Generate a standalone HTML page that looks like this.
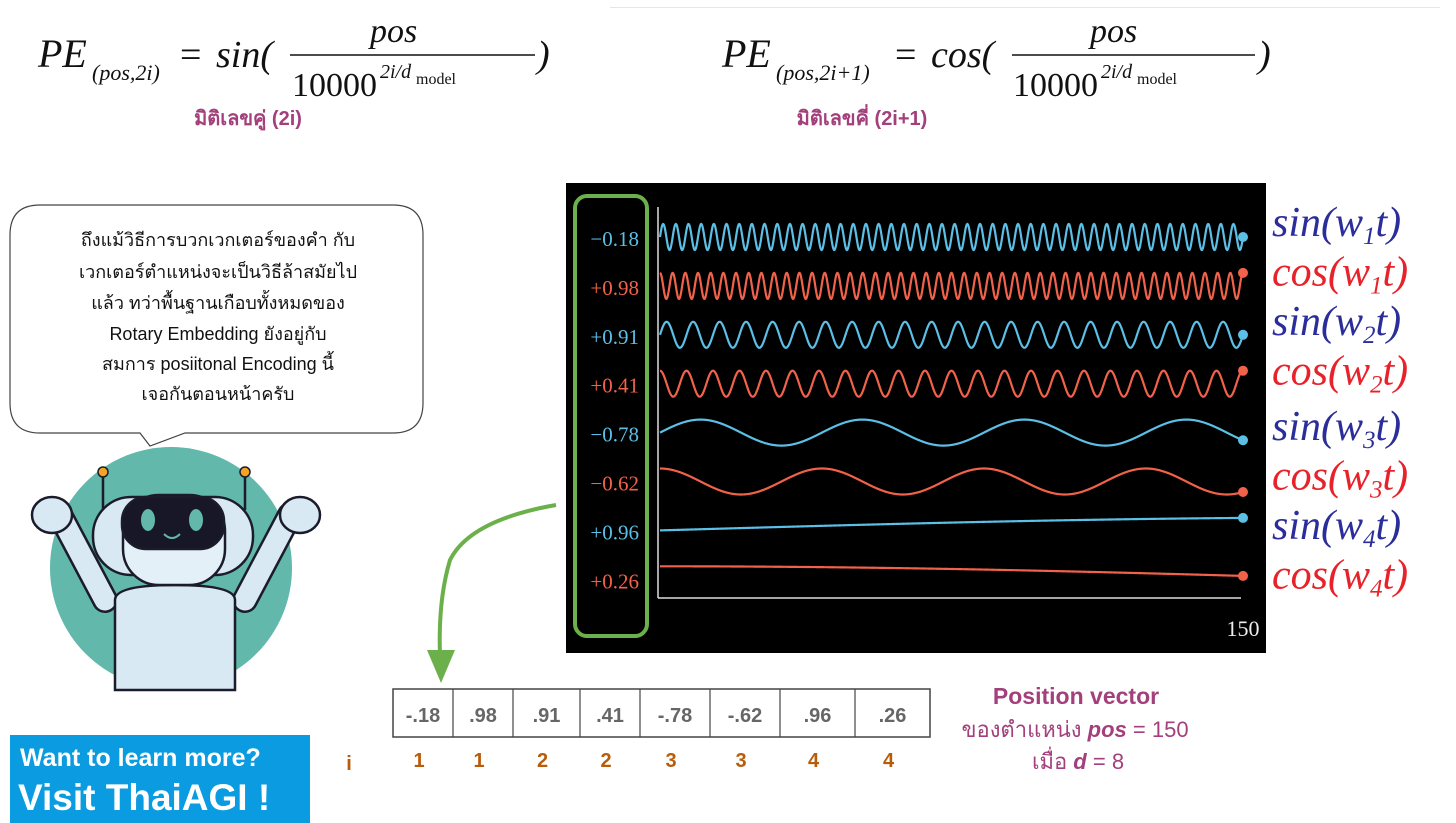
<!DOCTYPE html>
<html><head><meta charset="utf-8">
<style>
html,body{margin:0;padding:0;background:#fff;}
body{width:1456px;height:823px;position:relative;overflow:hidden;font-family:"Liberation Sans","Noto Sans CJK SC",sans-serif;}
.abs{position:absolute;}
</style></head>
<body>
<div class="abs" style="left:610px;top:7px;width:830px;height:1px;background:#e6e6e6"></div>

<svg class="abs" style="left:0;top:0" width="1456" height="823">
  <g font-family="Liberation Serif, serif" fill="#111">
    <text x="38" y="67" font-size="40" font-style="italic">PE</text>
    <text x="92" y="80" font-size="22" font-style="italic">(pos,2i)</text>
    <text x="180" y="67" font-size="38">=</text>
    <text x="216" y="67" font-size="38" font-style="italic">sin(</text>
    <text x="370" y="42" font-size="34" font-style="italic">pos</text>
    <line x1="290" y1="55" x2="535" y2="55" stroke="#111" stroke-width="1.5"/>
    <text x="292" y="96" font-size="34">10000</text>
    <text x="380" y="78" font-size="20" font-style="italic">2i/d</text>
    <text x="416" y="84" font-size="16">model</text>
    <text x="537" y="67" font-size="38" font-style="italic">)</text>
  </g>
  <g font-family="Liberation Serif, serif" fill="#111">
    <text x="722" y="67" font-size="40" font-style="italic">PE</text>
    <text x="776" y="80" font-size="22" font-style="italic">(pos,2i+1)</text>
    <text x="895" y="67" font-size="38">=</text>
    <text x="931" y="67" font-size="38" font-style="italic">cos(</text>
    <text x="1090" y="42" font-size="34" font-style="italic">pos</text>
    <line x1="1012" y1="55" x2="1255" y2="55" stroke="#111" stroke-width="1.5"/>
    <text x="1013" y="96" font-size="34">10000</text>
    <text x="1101" y="78" font-size="20" font-style="italic">2i/d</text>
    <text x="1137" y="84" font-size="16">model</text>
    <text x="1258" y="67" font-size="38" font-style="italic">)</text>
  </g>
  <text x="248" y="125" text-anchor="middle" font-size="20" font-weight="bold" fill="#a3407c" font-family="Liberation Sans, Noto Sans CJK SC, sans-serif">มิติเลขคู่ (2i)</text>
  <text x="862" y="125" text-anchor="middle" font-size="20" font-weight="bold" fill="#a3407c" font-family="Liberation Sans, Noto Sans CJK SC, sans-serif">มิติเลขคี่ (2i+1)</text>

  <g>
    <path d="M40,205 H393 Q423,205 423,235 V403 Q423,433 393,433 H185 L150,446 L140,433 H40 Q10,433 10,403 V235 Q10,205 40,205 Z" fill="#fff" stroke="#444" stroke-width="1.2"/>
    <g font-family="Liberation Sans, Noto Sans CJK SC, sans-serif" font-size="18" fill="#111" text-anchor="middle">
      <text x="218" y="246">ถึงแม้วิธีการบวกเวกเตอร์ของคำ กับ</text>
      <text x="218" y="278">เวกเตอร์ตำแหน่งจะเป็นวิธีล้าสมัยไป</text>
      <text x="218" y="309">แล้ว ทว่าพื้นฐานเกือบทั้งหมดของ</text>
      <text x="218" y="340">Rotary Embedding ยังอยู่กับ</text>
      <text x="218" y="370">สมการ posiitonal Encoding นี้</text>
      <text x="218" y="400">เจอกันตอนหน้าครับ</text>
    </g>
  </g>

  <g stroke="#1b1b2b" stroke-width="2.5">
    <circle cx="171" cy="568" r="121" fill="#62b8ab" stroke="none"/>
    <path d="M60,515 L105,600" stroke="#1b1b2b" stroke-width="26" stroke-linecap="round"/>
    <path d="M60,515 L105,600" stroke="#d8e9f3" stroke-width="21" stroke-linecap="round"/>
    <path d="M290,515 L245,600" stroke="#1b1b2b" stroke-width="26" stroke-linecap="round"/>
    <path d="M290,515 L245,600" stroke="#d8e9f3" stroke-width="21" stroke-linecap="round"/>
    <ellipse cx="52" cy="515" rx="20" ry="18" fill="#d8e9f3"/>
    <ellipse cx="300" cy="515" rx="20" ry="18" fill="#d8e9f3"/>
    <path d="M115,600 Q115,585 175,585 Q235,585 235,600 V690 H115 Z" fill="#d8e9f3"/>
    <line x1="103" y1="472" x2="103" y2="510"/><line x1="245" y1="472" x2="245" y2="510"/>
    <circle cx="103" cy="472" r="5" fill="#f4a323" stroke-width="1.5"/>
    <circle cx="245" cy="472" r="5" fill="#f4a323" stroke-width="1.5"/>
    <rect x="93" y="497" width="160" height="78" rx="38" fill="#d8e9f3"/>
    <rect x="123" y="495" width="102" height="90" rx="36" fill="#e4f0f7"/>
    <rect x="122" y="497" width="102" height="52" rx="24" fill="#171728"/>
    <ellipse cx="148" cy="520" rx="7" ry="11" fill="#62b8ab" stroke="none"/>
    <ellipse cx="196" cy="520" rx="7" ry="11" fill="#62b8ab" stroke="none"/>
    <path d="M164,534 Q172,542 180,534" fill="none" stroke="#62b8ab" stroke-width="2"/>
  </g>

  <g>
    <rect x="10" y="735" width="300" height="88" fill="#0a9be0"/>
    <text x="20" y="766" font-size="25" font-weight="bold" fill="#fff" font-family="Liberation Sans, sans-serif">Want to learn more?</text>
    <text x="18" y="810" font-size="37" font-weight="bold" fill="#fff" font-family="Liberation Sans, sans-serif">Visit ThaiAGI !</text>
  </g>

  <rect x="566" y="183" width="700" height="470" fill="#000"/>
  <rect x="575" y="196" width="72" height="440" rx="12" fill="none" stroke="#6bb04a" stroke-width="4"/>
  <line x1="658" y1="207" x2="658" y2="598" stroke="#ddd" stroke-width="1.5"/>
  <line x1="658" y1="598" x2="1241" y2="598" stroke="#ddd" stroke-width="1.5"/>
  <text x="1243" y="636" text-anchor="middle" font-size="22" fill="#eee" font-family="Liberation Serif, serif">150</text>
  <g id="series"></g>
  <g id="vec"></g>

  <path d="M556,505 Q470,520 450,560 Q438,600 440,655" fill="none" stroke="#6bb04a" stroke-width="4"/>
  <polygon points="427,650 455,650 441,683" fill="#6bb04a"/>

  <g font-family="Liberation Sans, Noto Sans CJK SC, sans-serif" text-anchor="middle" fill="#a3407c">
    <text x="1076" y="704" font-size="23" font-weight="bold">Position vector</text>
    <text x="1075" y="737" font-size="22">ของตำแหน่ง <tspan font-weight="bold" font-style="italic">pos</tspan> = 150</text>
    <text x="1078" y="769" font-size="22">เมื่อ <tspan font-weight="bold" font-style="italic">d</tspan> = 8</text>
  </g>
  <text x="349" y="770" font-size="20" font-weight="bold" fill="#b85c0a" text-anchor="middle">i</text>
</svg>

<script>
const labels = ["−0.18","+0.98","+0.91","+0.41","−0.78","−0.62","+0.96","+0.26"];
const cycles = [46, 46, 22, 22, 3.6, 3.6, 0.205, 0.208];
const kinds = ["sin","cos","sin","cos","sin","cos","sin","cos"];
const legend = ["sin","cos","sin","cos","sin","cos","sin","cos"];
const subs = ["1","1","2","2","3","3","4","4"];
const vecValues = ["-.18",".98",".91",".41","-.78","-.62",".96",".26"];
const iIndex = ["1","1","2","2","3","3","4","4"];
const tMax = 150;

const NS = "http://www.w3.org/2000/svg";
const g = document.getElementById("series");
const x0 = 660, x1 = 1243, rowTop = 237, rowGap = 48.9, amp = 13;
const blue = "#5bbfe6", red = "#f2624a";
function xs(t){ return x0 + (x1 - x0) * t / tMax; }
function ys(row, v){ return rowTop + row * rowGap - amp * v; }
function f(k, c, t){ const a = 2*Math.PI*c*t/tMax; return k === "sin" ? Math.sin(a) : Math.cos(a); }

for (let r = 0; r < labels.length; r++) {
  const col = kinds[r] === "sin" ? blue : red;
  let d = "";
  const n = 1400;
  for (let i = 0; i <= n; i++) {
    const t = tMax * i / n;
    d += (i ? "L" : "M") + xs(t).toFixed(2) + "," + ys(r, f(kinds[r], cycles[r], t)).toFixed(2);
  }
  const p = document.createElementNS(NS, "path");
  p.setAttribute("d", d); p.setAttribute("fill", "none"); p.setAttribute("stroke", col); p.setAttribute("stroke-width", "2.2");
  
  
  g.appendChild(p);
  const dot = document.createElementNS(NS, "circle");
  dot.setAttribute("cx", xs(tMax)); dot.setAttribute("cy", ys(r, f(kinds[r], cycles[r], tMax))); dot.setAttribute("r", 5); dot.setAttribute("fill", col);
  
  
  g.appendChild(dot);
  const lt = document.createElementNS(NS, "text");
  lt.setAttribute("x", 639); lt.setAttribute("y", rowTop + r*rowGap + 9); lt.setAttribute("text-anchor", "end");
  lt.setAttribute("font-size", "21"); lt.setAttribute("font-family", "Liberation Serif, serif"); lt.setAttribute("fill", col);
  lt.textContent = labels[r];
  
  
  g.appendChild(lt);
  const lg = document.createElementNS(NS, "text");
  lg.setAttribute("x", 1272); lg.setAttribute("y", 236 + r*49.5 + (r>=4?6:0));
  lg.setAttribute("font-size", "42"); lg.setAttribute("font-style", "italic"); lg.setAttribute("font-family", "Liberation Serif, serif");
  lg.setAttribute("fill", kinds[r] === "sin" ? "#2b2d9b" : "#e8222a");
  lg.innerHTML = legend[r] + "(w<tspan font-size='25' dy='8'>" + subs[r] + "</tspan><tspan dy='-8'>t)</tspan>";
  
  
  g.appendChild(lg);
}

const vg = document.getElementById("vec");
const edges = [393,453,513,580,640,710,780,855,930];
const outer = document.createElementNS(NS, "rect");
outer.setAttribute("x", 393); outer.setAttribute("y", 689); outer.setAttribute("width", 537); outer.setAttribute("height", 48);
outer.setAttribute("fill", "#fff"); outer.setAttribute("stroke", "#444"); outer.setAttribute("stroke-width", "1.5");


vg.appendChild(outer);
for (let k = 0; k < vecValues.length; k++) {
  if (k > 0) {
    const ln = document.createElementNS(NS, "line");
    ln.setAttribute("x1", edges[k]); ln.setAttribute("x2", edges[k]); ln.setAttribute("y1", 689); ln.setAttribute("y2", 737);
    ln.setAttribute("stroke", "#444"); ln.setAttribute("stroke-width", "1.2");
    
    
    vg.appendChild(ln);
  }
  const cx = (edges[k] + edges[k+1]) / 2;
  const tx = document.createElementNS(NS, "text");
  tx.setAttribute("x", cx); tx.setAttribute("y", 722); tx.setAttribute("text-anchor", "middle");
  tx.setAttribute("font-size", "20"); tx.setAttribute("font-weight", "bold"); tx.setAttribute("fill", "#666");
  tx.textContent = vecValues[k];
  
  
  vg.appendChild(tx);
  const it = document.createElementNS(NS, "text");
  it.setAttribute("x", cx - 4); it.setAttribute("y", 767); it.setAttribute("text-anchor", "middle");
  it.setAttribute("font-size", "20"); it.setAttribute("font-weight", "bold"); it.setAttribute("fill", "#b85c0a");
  it.textContent = iIndex[k];
  
  
  vg.appendChild(it);
}
</script>
</body></html>
